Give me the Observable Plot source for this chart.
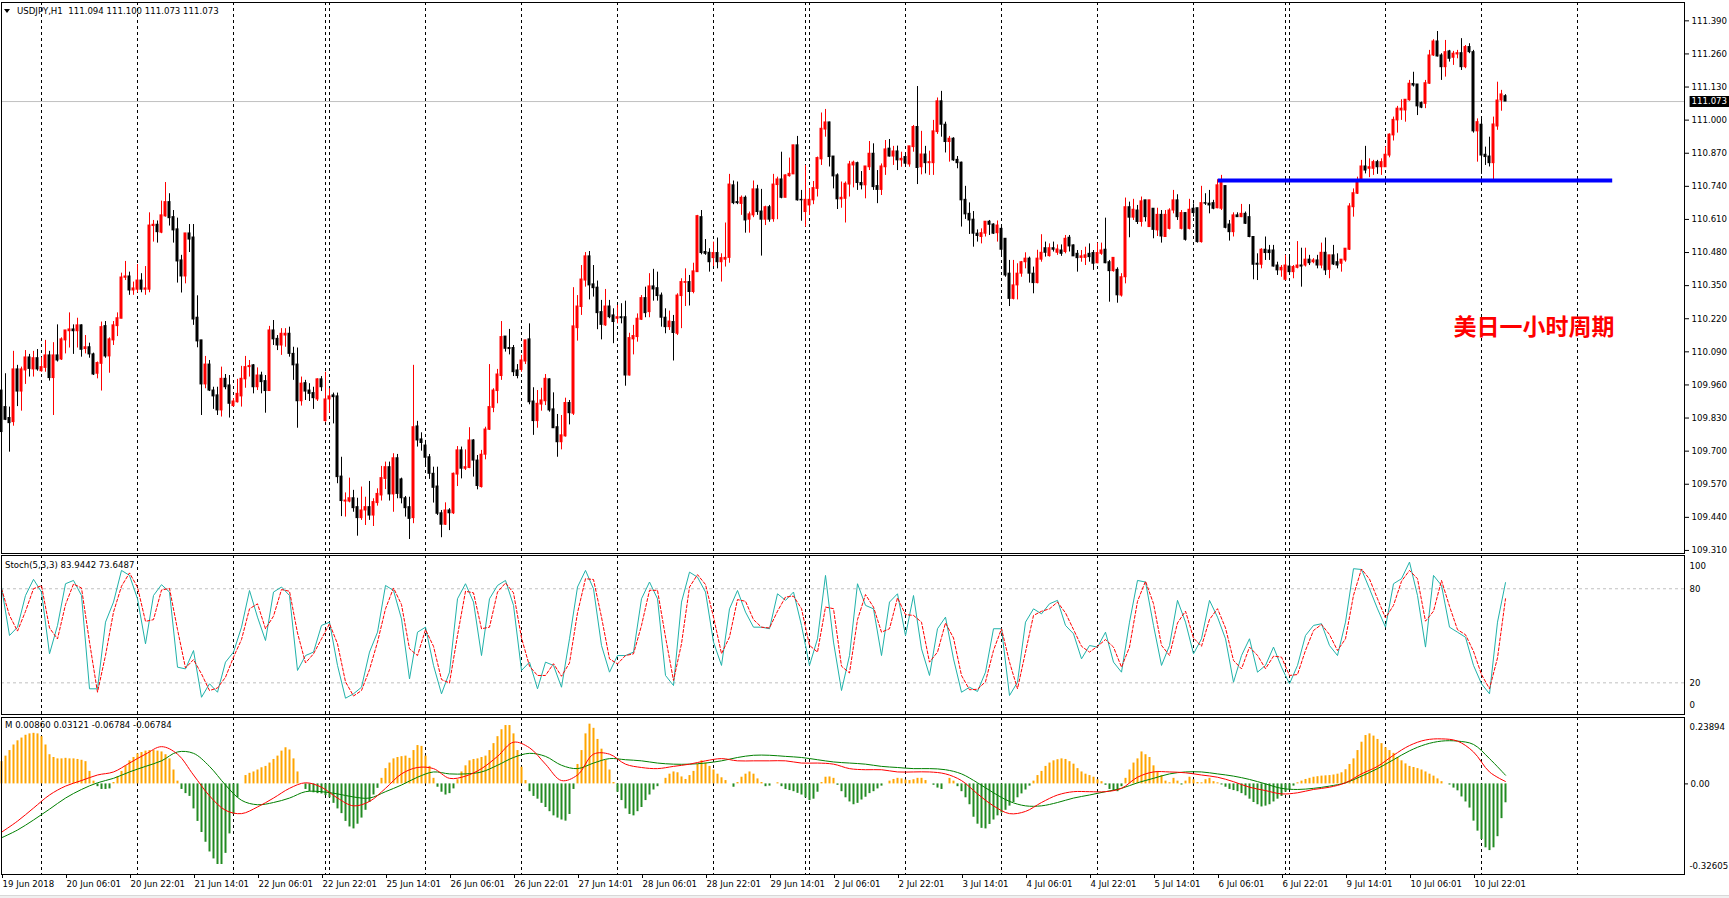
<!DOCTYPE html>
<html><head><meta charset="utf-8">
<script src="https://cdn.jsdelivr.net/npm/d3@7"></script>
<script src="https://cdn.jsdelivr.net/npm/@observablehq/plot@0.6"></script>
<style>
html,body{margin:0;padding:0;background:#fff;}
#wrap{position:relative;width:1729px;height:898px;overflow:hidden;background:#fff;font-family:"DejaVu Sans",Verdana,sans-serif;}
.panel{position:absolute;left:0;}
.hdr{position:absolute;font-size:8.6px;line-height:10px;color:#000;white-space:pre;}
#tri{position:absolute;left:4px;top:9px;width:0;height:0;border-left:3px solid transparent;border-right:3px solid transparent;border-top:4px solid #000;}
#foot{position:absolute;left:0;top:895px;width:1729px;height:3px;background:#f0f0f0;border-top:1px solid #d8d8d8;}
</style></head><body><div id="wrap"></div>
<script>
// ---------------- DATA ----------------
const symbolTitle = "USDJPY,H1  111.094 111.100 111.073 111.073";
const stochTitle = "Stoch(5,3,3) 83.9442 73.6487";
const macdTitle = "M 0.00860 0.03121 -0.06784 -0.06784";

const opens = [
109.938,109.873,109.830,109.814,110.021,109.934,110.017,110.068,110.021,110.065,
110.014,110.027,110.076,109.987,110.076,110.060,110.135,110.171,110.178,110.171,
110.194,110.101,110.108,110.080,110.004,110.043,110.191,110.072,110.135,110.191,
110.220,110.381,110.386,110.331,110.334,110.370,110.334,110.334,110.584,110.589,
110.558,110.622,110.678,110.619,110.571,110.449,110.386,110.555,110.539,110.224,
110.135,109.962,110.040,109.938,109.919,109.860,109.984,109.958,109.877,109.892,
109.915,109.982,110.030,110.037,109.951,109.997,109.975,109.936,110.174,110.141,
110.115,110.154,110.161,110.082,110.040,109.896,109.967,109.938,109.928,109.903,
109.982,109.818,109.903,109.919,109.915,109.600,109.502,109.502,109.515,109.480,
109.437,109.467,109.480,109.447,109.496,109.526,109.591,109.637,109.530,109.672,
109.589,109.515,109.480,109.437,109.797,109.746,109.722,109.676,109.611,109.561,
109.456,109.411,109.467,109.456,109.608,109.703,109.631,109.634,109.742,109.663,
109.559,109.686,109.784,109.870,109.936,109.995,110.150,110.105,110.105,110.017,
110.019,110.052,110.139,109.895,109.818,109.883,109.896,109.982,109.864,109.794,
109.735,109.758,109.889,109.847,110.183,110.266,110.370,110.465,110.355,110.342,
110.246,110.194,110.268,110.233,110.220,110.226,110.226,109.997,110.139,110.148,
110.216,110.301,110.246,110.347,110.340,110.311,110.224,110.187,110.207,110.161,
110.309,110.361,110.364,110.325,110.403,110.619,110.482,110.479,110.458,110.478,
110.442,110.452,110.459,110.744,110.678,110.671,110.695,110.609,110.626,110.728,
110.641,110.609,110.658,110.611,110.745,110.767,110.695,110.780,110.787,110.901,
110.687,110.639,110.665,110.685,110.730,110.846,110.963,110.991,110.857,110.783,
110.689,110.691,110.747,110.822,110.831,110.753,110.744,110.815,110.868,110.741,
110.726,110.815,110.888,110.857,110.877,110.842,110.855,110.826,110.894,110.973,
110.815,110.865,110.831,110.831,110.953,111.074,110.982,110.914,110.927,110.844,
110.833,110.687,110.632,110.609,110.554,110.541,110.554,110.601,110.590,110.556,
110.573,110.534,110.397,110.298,110.351,110.397,110.442,110.456,110.397,110.360,
110.452,110.497,110.466,110.497,110.479,110.488,110.482,110.538,110.508,110.475,
110.459,110.459,110.475,110.478,110.438,110.475,110.491,110.442,110.407,110.412,
110.311,110.383,110.658,110.617,110.645,110.600,110.685,110.580,110.652,110.567,
110.628,110.541,110.573,110.645,110.685,110.573,110.635,110.573,110.652,110.654,
110.521,110.674,110.672,110.674,110.654,110.652,110.741,110.590,110.560,110.626,
110.619,110.632,110.619,110.541,110.436,110.432,110.491,110.488,110.488,110.429,
110.410,110.373,110.425,110.403,110.420,110.429,110.429,110.452,110.442,110.449,
110.429,110.479,110.412,110.469,110.442,110.436,110.449,110.491,110.658,110.711,
110.763,110.818,110.809,110.809,110.835,110.815,110.815,110.861,110.940,110.999,
111.038,111.038,111.078,111.142,111.140,111.067,111.064,111.143,111.254,111.309,
111.254,111.208,111.270,111.245,111.258,111.263,111.208,111.287,111.267,110.956,
110.982,110.864,110.857,110.831,110.975,111.077,111.094];

const highs = [
109.945,110.004,109.873,110.092,110.037,110.030,110.095,110.080,110.092,110.099,
110.067,110.135,110.092,110.126,110.196,110.145,110.174,110.243,110.196,110.222,
110.196,110.154,110.124,110.085,110.050,110.207,110.209,110.145,110.209,110.243,
110.399,110.445,110.403,110.364,110.433,110.397,110.425,110.636,110.606,110.604,
110.682,110.755,110.711,110.645,110.615,110.469,110.555,110.590,110.590,110.310,
110.135,110.072,110.056,109.951,109.951,110.030,110.001,109.997,109.906,109.982,
110.033,110.072,110.056,110.040,110.027,110.010,109.997,110.190,110.213,110.154,
110.181,110.181,110.187,110.108,110.105,109.991,109.978,109.965,109.951,109.984,
109.993,110.010,109.945,109.928,109.928,109.676,109.536,109.594,109.546,109.515,
109.559,109.519,109.581,109.513,109.552,109.640,109.657,109.657,109.690,109.687,
109.594,109.522,109.519,110.037,109.817,109.772,109.742,109.687,109.637,109.637,
109.467,109.497,109.474,109.614,109.718,109.716,109.705,109.792,109.745,109.683,
109.703,109.794,110.040,109.945,110.021,110.209,110.150,110.178,110.115,110.040,
110.076,110.135,110.200,109.949,109.938,109.947,110.001,109.984,109.929,109.844,
109.840,109.908,109.899,110.342,110.311,110.429,110.480,110.484,110.429,110.368,
110.292,110.335,110.292,110.259,110.272,110.279,110.289,110.163,110.194,110.239,
110.311,110.344,110.397,110.414,110.403,110.321,110.259,110.250,110.233,110.318,
110.377,110.416,110.390,110.438,110.626,110.645,110.531,110.495,110.521,110.537,
110.475,110.596,110.787,110.761,110.757,110.702,110.702,110.639,110.761,110.744,
110.728,110.662,110.665,110.787,110.776,110.874,110.785,110.851,110.901,110.936,
110.724,110.822,110.731,110.759,110.855,111.028,111.042,110.992,110.857,110.789,
110.757,110.757,110.838,110.839,110.835,110.798,110.818,110.916,110.907,110.802,
110.828,110.920,110.924,110.897,110.898,110.874,110.872,110.897,110.979,111.132,
110.956,110.897,110.878,110.999,111.087,111.113,110.992,110.936,110.931,110.857,
110.835,110.740,110.675,110.641,110.569,110.573,110.601,110.606,110.593,110.604,
110.586,110.534,110.449,110.449,110.436,110.445,110.479,110.462,110.423,110.489,
110.550,110.521,110.514,110.521,110.510,110.510,110.547,110.547,110.510,110.488,
110.488,110.501,110.514,110.488,110.517,110.517,110.615,110.449,110.459,110.420,
110.397,110.694,110.678,110.689,110.665,110.698,110.685,110.685,110.652,110.654,
110.645,110.645,110.652,110.724,110.707,110.645,110.636,110.689,110.671,110.654,
110.740,110.711,110.724,110.685,110.766,110.783,110.741,110.606,110.636,110.636,
110.669,110.639,110.668,110.541,110.475,110.495,110.541,110.508,110.508,110.442,
110.429,110.469,110.472,110.429,110.523,110.497,110.497,110.469,110.456,110.469,
110.517,110.537,110.469,110.508,110.475,110.452,110.495,110.672,110.730,110.776,
110.842,110.897,110.848,110.842,110.842,110.848,110.894,110.946,111.012,111.054,
111.080,111.080,111.156,111.188,111.140,111.071,111.156,111.274,111.316,111.348,
111.261,111.313,111.274,111.270,111.274,111.320,111.293,111.300,111.274,111.005,
111.012,110.894,110.933,111.012,111.149,111.117,111.100];

const lows = [
109.703,109.820,109.696,109.798,109.875,109.857,109.962,109.991,109.991,110.014,
110.010,110.010,109.975,109.840,110.050,110.056,110.082,110.105,110.080,110.105,
110.069,110.082,110.065,109.997,109.984,109.936,110.065,110.006,110.115,110.150,
110.220,110.370,110.312,110.312,110.322,110.322,110.312,110.322,110.521,110.517,
110.554,110.619,110.584,110.517,110.360,110.321,110.357,110.480,110.194,110.106,
109.840,109.945,109.934,109.864,109.840,109.834,109.941,109.830,109.873,109.889,
109.873,109.947,109.991,109.925,109.938,109.925,109.849,109.936,110.115,110.095,
110.076,110.108,110.069,109.978,109.790,109.877,109.899,109.895,109.864,109.895,
109.934,109.814,109.849,109.807,109.572,109.443,109.441,109.497,109.460,109.366,
109.428,109.408,109.428,109.404,109.484,109.504,109.549,109.504,109.460,109.513,
109.493,109.441,109.353,109.415,109.716,109.700,109.637,109.589,109.496,109.447,
109.360,109.408,109.388,109.451,109.561,109.591,109.624,109.631,109.598,109.548,
109.555,109.666,109.781,109.851,109.886,109.978,110.089,110.078,109.993,109.984,
110.010,110.040,109.882,109.762,109.790,109.857,109.879,109.853,109.790,109.676,
109.705,109.755,109.803,109.840,110.132,110.233,110.344,110.294,110.305,110.177,
110.137,110.190,110.220,110.122,110.200,110.200,109.955,109.995,110.078,110.128,
110.213,110.224,110.224,110.289,110.289,110.187,110.161,110.174,110.054,110.154,
110.181,110.268,110.270,110.318,110.403,110.471,110.469,110.403,110.425,110.416,
110.364,110.423,110.438,110.668,110.668,110.626,110.556,110.556,110.617,110.626,
110.466,110.586,110.599,110.599,110.609,110.691,110.695,110.776,110.787,110.682,
110.603,110.580,110.626,110.668,110.698,110.822,110.933,110.816,110.730,110.649,
110.654,110.596,110.698,110.734,110.724,110.726,110.691,110.802,110.724,110.672,
110.704,110.783,110.855,110.822,110.802,110.815,110.815,110.815,110.874,110.747,
110.785,110.789,110.783,110.783,110.944,110.933,110.871,110.835,110.838,110.809,
110.580,110.610,110.551,110.501,110.521,110.514,110.541,110.547,110.551,110.521,
110.462,110.383,110.268,110.294,110.294,110.383,110.416,110.360,110.318,110.357,
110.442,110.462,110.462,110.482,110.469,110.465,110.475,110.482,110.465,110.403,
110.442,110.429,110.442,110.410,110.436,110.469,110.436,110.285,110.403,110.281,
110.305,110.357,110.538,110.606,110.590,110.580,110.600,110.580,110.534,110.543,
110.517,110.541,110.569,110.632,110.606,110.569,110.525,110.569,110.619,110.517,
110.517,110.665,110.632,110.648,110.652,110.645,110.573,110.525,110.541,110.619,
110.617,110.590,110.538,110.373,110.370,110.416,110.449,110.449,110.423,110.390,
110.383,110.370,110.394,110.377,110.416,110.344,110.423,110.429,110.436,110.416,
110.416,110.390,110.377,110.429,110.416,110.403,110.442,110.488,110.619,110.708,
110.761,110.789,110.774,110.783,110.787,110.783,110.815,110.852,110.918,110.949,
110.999,110.992,111.074,111.130,111.018,111.045,111.045,111.140,111.250,111.248,
111.156,111.169,111.228,111.215,111.241,111.195,111.202,111.261,110.949,110.835,
110.787,110.822,110.816,110.760,110.960,111.035,111.073];

const closes = [
109.775,109.823,109.810,110.021,109.934,110.021,110.068,110.023,110.065,110.021,
110.030,110.076,109.987,110.076,110.056,110.139,110.174,110.178,110.171,110.194,
110.098,110.108,110.080,110.001,110.046,110.187,110.072,110.139,110.194,110.222,
110.382,110.386,110.331,110.339,110.370,110.334,110.339,110.586,110.589,110.560,
110.626,110.678,110.615,110.567,110.445,110.386,110.555,110.531,110.217,110.131,
109.962,110.040,109.938,109.915,109.860,109.984,109.951,109.886,109.895,109.925,
109.984,110.030,110.034,109.951,109.997,109.971,109.936,110.174,110.139,110.115,
110.161,110.161,110.082,110.037,109.896,109.965,109.934,109.925,109.908,109.982,
109.951,109.903,109.915,109.912,109.598,109.504,109.506,109.515,109.476,109.437,
109.467,109.480,109.447,109.500,109.532,109.594,109.637,109.530,109.672,109.532,
109.515,109.476,109.434,109.794,109.742,109.732,109.674,109.611,109.556,109.454,
109.411,109.467,109.456,109.611,109.703,109.631,109.637,109.742,109.663,109.563,
109.686,109.785,109.873,109.938,110.001,110.148,110.102,110.101,110.010,109.995,
110.056,110.135,109.892,109.818,109.886,109.899,109.984,109.860,109.790,109.735,
109.762,109.889,109.849,110.190,110.268,110.374,110.465,110.351,110.340,110.242,
110.196,110.268,110.226,110.207,110.226,110.222,109.997,110.144,110.152,110.220,
110.301,110.242,110.347,110.335,110.309,110.224,110.187,110.209,110.164,110.311,
110.364,110.364,110.325,110.406,110.623,110.478,110.475,110.442,110.478,110.442,
110.458,110.459,110.747,110.674,110.674,110.695,110.606,110.630,110.728,110.639,
110.609,110.658,110.609,110.747,110.767,110.695,110.783,110.789,110.901,110.685,
110.685,110.687,110.687,110.733,110.851,110.966,110.991,110.855,110.779,110.689,
110.695,110.750,110.826,110.833,110.753,110.744,110.818,110.868,110.737,110.726,
110.818,110.885,110.857,110.877,110.842,110.848,110.829,110.897,110.973,110.812,
110.865,110.831,110.835,110.956,111.074,110.982,110.914,110.927,110.842,110.831,
110.685,110.630,110.606,110.554,110.545,110.556,110.601,110.589,110.554,110.586,
110.491,110.390,110.298,110.351,110.397,110.442,110.456,110.397,110.360,110.456,
110.479,110.479,110.497,110.491,110.492,110.475,110.534,110.504,110.465,110.458,
110.465,110.469,110.462,110.436,110.478,110.488,110.438,110.407,110.459,110.312,
110.383,110.658,110.617,110.648,110.600,110.681,110.619,110.685,110.569,110.628,
110.543,110.628,110.645,110.685,110.619,110.635,110.530,110.648,110.635,110.521,
110.674,110.672,110.665,110.652,110.744,110.763,110.577,110.560,110.626,110.619,
110.632,110.593,110.541,110.432,110.432,110.491,110.478,110.478,110.425,110.410,
110.420,110.429,110.403,110.423,110.429,110.425,110.452,110.438,110.449,110.429,
110.479,110.410,110.469,110.433,110.429,110.452,110.495,110.661,110.713,110.763,
110.818,110.802,110.815,110.835,110.815,110.835,110.864,110.943,111.001,111.045,
111.045,111.080,111.143,111.136,111.054,111.049,111.145,111.254,111.309,111.250,
111.208,111.267,111.241,111.261,111.263,111.208,111.287,111.267,110.956,110.992,
110.861,110.855,110.831,110.983,111.077,111.101,111.073];

// Stochastic (5,3,3), read every second bar
const stochSampleStep = 2;
const stochK = [
81.1,50.2,55.5,75.7,86.0,77.9,38.5,56.6,83.2,85.3,75.7,16.2,16.2,58.7,71.5,91.7,88.5,73.6,44.9,75.7,
82.6,77.9,30.0,28.9,40.6,10.8,19.4,14.0,33.2,39.6,55.5,78.9,61.9,47.0,77.9,81.1,75.7,27.9,37.4,39.6,
56.6,58.7,31.1,10.2,13.0,17.2,39.6,52.3,82.1,78.9,60.8,22.5,52.3,55.5,31.1,13.0,26.8,73.6,83.2,71.5,
37.4,73.6,82.1,85.3,69.4,27.9,33.2,16.2,33.2,31.1,17.2,48.1,81.1,91.7,80.0,43.8,26.8,37.4,37.4,39.6,
73.6,84.3,73.6,24.7,18.3,71.5,90.6,87.4,77.9,46.0,31.1,67.2,78.9,65.1,55.5,
55.5,54.5,76.8,72.6,77.9,56.6,31.1,48.1,88.5,46.0,15.1,37.4,83.2,69.4,67.2,37.4,71.5,76.8,50.2,75.7,
41.7,24.7,54.5,61.9,35.3,14.0,17.2,14.5,26.8,54.5,54.5,11.9,20.4,58.7,67.2,64.0,70.4,72.6,56.6,51.3,
35.3,43.8,42.8,52.3,33.2,26.8,58.7,85.3,84.3,56.6,31.1,43.8,72.6,58.7,38.5,48.1,72.6,61.9,48.1,20.4,
37.4,48.1,26.8,31.1,42.8,30.0,19.4,31.1,50.2,56.6,57.7,43.8,37.4,58.7,92.8,92.3,80.0,67.2,55.5,83.2,
86.4,97.0,75.7,42.8,88.5,82.1,55.5,52.3,49.1,31.1,19.4,13.0,58.7,83.9];
const stochD = [
80,63,53,65.6,80,82,55,48,69.9,83,80.5,46,14,37.5,65.1,81.6,90.1,81,59.2,60.3,
79.2,80.2,54,29.5,34.8,25.7,15.1,16.7,23.6,36.4,47.6,67.2,70.4,54.5,62.5,79.5,78.4,51.8,32.7,38.5,
48.1,57.7,44.9,20.7,11.6,15.1,28.4,46,67.2,80.5,69.9,41.7,37.4,53.9,43.3,22.1,19.9,50.2,78.4,77.4,
54.5,55.5,77.9,83.7,77.4,48.7,30.6,24.7,24.7,32.2,24.2,32.7,64.6,86.4,85.9,61.9,35.3,32.1,37.4,38.5,
56.6,79,79,49.2,21.5,44.9,81.1,89,82.7,62,38.6,49.2,73.1,72,60.3,
55.5,55,65.7,74.7,75.3,67.3,43.9,39.6,68.3,67.3,30.6,26.3,60.3,76.3,68.3,52.3,54.5,74.2,63.5,63,
58.7,33.2,39.6,58.2,48.6,24.7,15.6,15.9,20.7,40.7,54.5,33.2,16.2,39.6,63,65.6,67.2,71.5,64.6,54,
43.3,39.6,43.3,47.6,42.8,30,42.8,72,84.8,70.5,43.9,37.5,58.2,65.7,48.6,43.3,60.4,67.3,55,34.3,
28.9,42.8,37.5,29,37,36.4,24.7,25.3,40.7,53.4,57.2,50.8,40.6,48.1,75.8,92.6,86.2,73.6,61.4,69.4,
84.8,91.7,86.4,59.3,65.7,85.3,68.8,53.9,50.7,40.1,25.3,16.2,35.9,73.6];

// "M" oscillator: histogram per bar, two signal lines read every fourth bar
const macdHist = [
0.08,0.10,0.12,0.14,0.155,0.165,0.175,0.18,0.182,0.18,
0.17,0.14,0.105,0.095,0.09,0.09,0.092,0.09,0.09,0.088,
0.085,0.08,0.045,0.01,-0.01,-0.02,-0.02,-0.018,0.005,0.025,
0.045,0.065,0.083,0.095,0.108,0.113,0.118,0.12,0.12,0.118,
0.115,0.105,0.09,0.05,0.01,-0.02,-0.035,-0.045,-0.09,-0.135,
-0.175,-0.21,-0.245,-0.27,-0.29,-0.29,-0.25,-0.18,-0.11,-0.05,
0,0.03,0.038,0.043,0.05,0.058,0.063,0.075,0.088,0.10,
0.118,0.13,0.122,0.09,0.043,0,-0.02,-0.028,-0.032,-0.035,
-0.036,-0.042,-0.05,-0.07,-0.09,-0.107,-0.135,-0.155,-0.162,-0.145,
-0.123,-0.095,-0.067,-0.04,-0.016,0.02,0.055,0.075,0.09,0.095,
0.098,0.10,0.092,0.12,0.138,0.135,0.10,0.063,0.02,-0.012,
-0.03,-0.04,-0.035,-0.018,0.015,0.043,0.065,0.083,0.088,0.09,
0.095,0.10,0.12,0.145,0.17,0.195,0.21,0.21,0.18,0.12,
0.06,0.012,-0.028,-0.045,-0.055,-0.07,-0.085,-0.1,-0.115,-0.123,
-0.13,-0.134,-0.11,-0.02,0.07,0.12,0.18,0.215,0.20,0.16,
0.125,0.085,0.05,0.005,-0.03,-0.06,-0.09,-0.11,-0.115,-0.1,
-0.085,-0.06,-0.04,-0.022,-0.01,0,0.02,0.035,0.043,0.04,
0.025,0.016,0.03,0.045,0.07,0.083,0.075,0.063,0.05,0.035,
0.022,0.012,0,-0.012,0.005,0.024,0.035,0.043,0.035,0.018,
0.005,-0.01,-0.008,0,0.004,-0.01,-0.02,-0.024,-0.028,-0.034,
-0.04,-0.05,-0.06,-0.055,-0.03,0.005,0.024,0.025,0.02,-0.005,
-0.028,-0.05,-0.065,-0.075,-0.07,-0.058,-0.048,-0.035,-0.028,-0.018,
-0.008,0,0.01,0.016,0.02,0.018,0.014,0.012,0.015,0.02,
0.02,0.012,0,-0.005,-0.015,-0.02,0,0.02,0.01,-0.01,
-0.028,-0.05,-0.075,-0.12,-0.145,-0.16,-0.162,-0.146,-0.13,-0.115,
-0.105,-0.095,-0.08,-0.067,-0.05,-0.036,-0.022,-0.008,0.01,0.03,
0.045,0.063,0.075,0.083,0.087,0.09,0.088,0.08,0.071,0.055,
0.043,0.035,0.03,0.024,0.015,0.008,-0.005,-0.02,-0.025,-0.028,
-0.01,0.02,0.05,0.075,0.09,0.115,0.105,0.095,0.065,0.045,
0.03,0.01,0.004,0.02,0.01,-0.004,0.01,0.024,0.015,0.005,
0.004,0.015,0.02,0.008,0.004,-0.004,-0.012,-0.02,-0.024,-0.028,
-0.035,-0.043,-0.055,-0.067,-0.075,-0.083,-0.08,-0.075,-0.065,-0.055,
-0.045,-0.03,-0.02,-0.008,0.004,0.01,0.016,0.02,0.024,0.026,
0.028,0.029,0.03,0.032,0.035,0.04,0.051,0.07,0.09,0.12,
0.15,0.174,0.18,0.172,0.16,0.145,0.13,0.12,0.11,0.095,
0.083,0.072,0.063,0.059,0.055,0.05,0.043,0.035,0.028,0.018,
0.008,0,-0.004,-0.015,-0.025,-0.047,-0.065,-0.087,-0.134,-0.17,
-0.2,-0.23,-0.24,-0.23,-0.19,-0.125,-0.068];
const macdLineStep = 4;
const macdRed = [
-0.174,-0.134,-0.087,-0.04,-0.008,0.012,0.032,0.043,0.075,0.107,
0.134,0.107,0.032,-0.043,-0.095,-0.107,-0.083,-0.051,-0.016,0.004,
-0.012,-0.051,-0.079,-0.063,-0.016,0.036,0.059,0.055,0.02,0.028,
0.055,0.099,0.15,0.13,0.071,0.012,0.032,0.107,0.107,0.071,
0.059,0.055,0.063,0.071,0.083,0.091,0.083,0.083,0.083,0.083,
0.075,0.075,0.071,0.055,0.051,0.051,0.043,0.043,0.043,0.036,
0.012,-0.036,-0.079,-0.107,-0.099,-0.067,-0.04,-0.028,-0.028,-0.028,
-0.016,0.024,0.043,0.043,0.04,0.032,0.024,0.008,-0.012,-0.024,
-0.036,-0.032,-0.02,-0.012,0.004,0.036,0.063,0.103,0.138,0.158,
0.162,0.154,0.115,0.043,0.0086];
const macdGreen = [
-0.194,-0.166,-0.13,-0.091,-0.051,-0.02,0.004,0.02,0.043,0.063,
0.083,0.115,0.11,0.063,-0.004,-0.059,-0.075,-0.067,-0.051,-0.028,
-0.028,-0.036,-0.047,-0.051,-0.028,-0.004,0.024,0.043,0.036,0.036,
0.043,0.067,0.095,0.11,0.099,0.067,0.055,0.075,0.091,0.087,
0.083,0.075,0.071,0.071,0.075,0.083,0.095,0.103,0.103,0.099,
0.095,0.087,0.079,0.075,0.071,0.063,0.059,0.055,0.055,0.051,
0.036,0.004,-0.032,-0.063,-0.079,-0.079,-0.067,-0.051,-0.04,-0.028,
-0.016,0.004,0.02,0.036,0.043,0.043,0.036,0.028,0.016,0.0,
-0.016,-0.02,-0.016,-0.008,0.004,0.028,0.055,0.087,0.119,0.142,
0.154,0.154,0.142,0.091,0.0312];

const priceTicks = [109.31,109.44,109.57,109.70,109.83,109.96,110.09,110.22,110.35,110.48,110.61,110.74,110.87,111.00,111.13,111.26,111.39];
const lastPrice = 111.073;
const stochLevels = [80, 20];
const macdTop = 0.23894, macdBottom = -0.32605;

// day separators (bar index of each new day)
const daySeparators = [10,34,58,81,82,106,130,154,178,201,202,226,250,274,298,321,322,346,370,394];
// time labels every 16 bars
const labelStep = 16;
const timeLabels = ["19 Jun 2018","20 Jun 06:01","20 Jun 22:01","21 Jun 14:01","22 Jun 06:01","22 Jun 22:01",
"25 Jun 14:01","26 Jun 06:01","26 Jun 22:01","27 Jun 14:01","28 Jun 06:01","28 Jun 22:01","29 Jun 14:01",
"2 Jul 06:01","2 Jul 22:01","3 Jul 14:01","4 Jul 06:01","4 Jul 22:01","5 Jul 14:01","6 Jul 06:01",
"6 Jul 22:01","9 Jul 14:01","10 Jul 06:01","10 Jul 22:01"];

// horizontal support line drawn on the chart
const supportLine = {price: 110.763, fromBar: 304.2, toBar: 402.8};
const noteText = {text: "美日一小时周期", bar: 363, price: 110.186};

// ---------------- DRAW ----------------
const RED = "#ff0000", TEAL = "#20b2aa", ORANGE = "#ffa500", HGREEN = "#228b22", LGREEN = "#008000";
const FONT = "'DejaVu Sans', Verdana, sans-serif";
const FS = "8.6px";
const W = 1729;
const xDom = [0, 420.75];
const xCfg = {domain: xDom, range: [1, 1684], axis: null};
const baseStyle = {background: "transparent", overflow: "visible", fontFamily: FONT, fontSize: FS, color: "#000"};
const fmt3 = d3.format(".3f");
const sepMark = () => Plot.ruleX(daySeparators, {stroke: "#000", strokeDasharray: "3,3", strokeWidth: 1});

const candles = closes.map((c, i) => ({i, o: opens[i], h: highs[i], l: lows[i], c, up: c >= opens[i]}));

const mainPlot = Plot.plot({
  width: W, height: 556, marginLeft: 1, marginRight: 45, marginTop: 2, marginBottom: 3,
  style: baseStyle,
  x: xCfg,
  y: {domain: [109.298, 111.462], range: [553, 2], label: null},
  marks: [
    Plot.ruleY([lastPrice], {stroke: "#c0c0c0"}),
    sepMark(),
    Plot.ruleX(candles, {x: "i", y1: "l", y2: "h", stroke: d => d.up ? RED : "#000"}),
    Plot.rect(candles, {x1: d => d.i - 0.375, x2: d => d.i + 0.375, y1: "o", y2: "c",
      fill: d => d.up ? RED : "#000", insetTop: -0.5, insetBottom: -0.5}),
    Plot.ruleY([supportLine], {y: "price", x1: "fromBar", x2: "toBar", stroke: "#0000ff", strokeWidth: 4}),
    Plot.text([noteText], {x: "bar", y: "price", text: "text", fill: RED, fontSize: 23, fontWeight: "bold",
      textAnchor: "start", fontFamily: "'Noto Sans CJK SC', sans-serif"}),
    Plot.frame({stroke: "#000"}),
    Plot.axisY({anchor: "right", ticks: priceTicks, tickSize: 4, tickPadding: 3, tickFormat: fmt3, label: null}),
    Plot.ruleY([lastPrice], {x1: xDom[1] + 1.4, x2: xDom[1] + 11.3, stroke: "#000", strokeWidth: 11}),
    Plot.text([lastPrice], {y: d => d, text: d => fmt3(d), frameAnchor: "right", dx: 7, textAnchor: "start", fill: "#fff"})
  ]
});

const kData = stochK.map((v, j) => ({i: j * stochSampleStep, v}));
const dData = stochD.map((v, j) => ({i: j * stochSampleStep, v}));
const stochPlot = Plot.plot({
  width: W, height: 163, marginLeft: 1, marginRight: 45, marginTop: 2, marginBottom: 2,
  style: baseStyle,
  x: xCfg,
  y: {domain: [0, 100], range: [160.7, 3.9], label: null},
  marks: [
    Plot.ruleY(stochLevels, {stroke: "#c0c0c0", strokeDasharray: "3,3"}),
    sepMark(),
    Plot.line(kData, {x: "i", y: "v", stroke: TEAL, strokeWidth: 1}),
    Plot.line(dData, {x: "i", y: "v", stroke: RED, strokeWidth: 1, strokeDasharray: "3,2"}),
    Plot.frame({stroke: "#000"}),
    Plot.axisY({anchor: "right", ticks: stochLevels, tickSize: 0, tickPadding: 5, tickFormat: d => String(d), label: null}),
    Plot.text(["100"], {text: d => d, frameAnchor: "top-right", dx: 5, dy: 7.5, textAnchor: "start"}),
    Plot.text(["0"], {text: d => d, frameAnchor: "bottom-right", dx: 5, dy: -7, textAnchor: "start"})
  ]
});

const histData = macdHist.map((v, i) => ({i, v}));
const redData = macdRed.map((v, j) => ({i: j * macdLineStep, v}));
const greenData = macdGreen.map((v, j) => ({i: j * macdLineStep, v}));
const labelBars = timeLabels.map((t, j) => j * labelStep);
const macdPlot = Plot.plot({
  width: W, height: 185, marginLeft: 1, marginRight: 45, marginTop: 3, marginBottom: 25,
  style: baseStyle,
  x: {domain: xDom, range: [1, 1684], label: null},
  y: {domain: [macdBottom, macdTop], range: [160, 3], label: null},
  marks: [
    sepMark(),
    Plot.ruleX(histData, {x: "i", y1: 0, y2: "v", stroke: d => d.v >= 0 ? ORANGE : HGREEN, strokeWidth: 2}),
    Plot.line(greenData, {x: "i", y: "v", stroke: LGREEN, strokeWidth: 1, curve: "catmull-rom"}),
    Plot.line(redData, {x: "i", y: "v", stroke: RED, strokeWidth: 1, curve: "catmull-rom"}),
    Plot.frame({stroke: "#000"}),
    Plot.axisY({anchor: "right", ticks: [0], tickSize: 3, tickPadding: 3, tickFormat: d => "0.00", label: null}),
    Plot.text([macdTop], {text: d => d.toFixed(5), frameAnchor: "top-right", dx: 5, dy: 6.5, textAnchor: "start"}),
    Plot.text([macdBottom], {text: d => d.toFixed(5), frameAnchor: "bottom-right", dx: 5, dy: -6, textAnchor: "start"}),
    Plot.axisX({ticks: labelBars, tickFormat: d => timeLabels[d / labelStep], tickSize: 4, tickPadding: 2,
      textAnchor: "start", dx: 1, label: null})
  ]
});

const wrap = document.getElementById("wrap");
function place(el, top) { el.classList.add("panel"); el.style.top = top + "px"; wrap.appendChild(el); }
place(mainPlot, 0);
place(stochPlot, 553);
place(macdPlot, 714);
function hdr(text, left, top) { const d = document.createElement("div"); d.className = "hdr"; d.textContent = text; d.style.left = left + "px"; d.style.top = top + "px"; wrap.appendChild(d); }
const tri = document.createElement("div"); tri.id = "tri"; wrap.appendChild(tri);
hdr(symbolTitle, 17, 6);
hdr(stochTitle, 5, 560);
hdr(macdTitle, 5, 720);
const foot = document.createElement("div"); foot.id = "foot"; wrap.appendChild(foot);
</script>
</body></html>
